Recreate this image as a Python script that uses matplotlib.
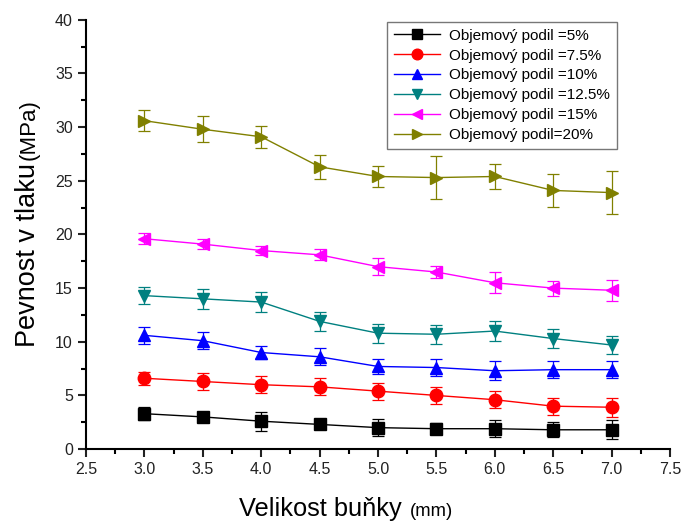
import matplotlib.pyplot as plt
from matplotlib.ticker import MultipleLocator

plt.rcParams['font.family'] = ['Liberation Sans', 'DejaVu Sans']

x = [3.0, 3.5, 4.0, 4.5, 5.0, 5.5, 6.0, 6.5, 7.0]
labels = ['Objemový podil =5%', 'Objemový podil =7.5%', 'Objemový podil =10%',
          'Objemový podil =12.5%', 'Objemový podil =15%', 'Objemový podil=20%']
y5 = [3.3, 3.0, 2.6, 2.3, 2.0, 1.9, 1.9, 1.8, 1.8]
e5 = [0.6, 0.4, 0.9, 0.3, 0.8, 0.5, 0.8, 0.7, 0.9]
y75 = [6.6, 6.3, 6.0, 5.8, 5.4, 5.0, 4.6, 4.0, 3.9]
e75 = [0.6, 0.8, 0.8, 0.8, 0.8, 0.8, 0.8, 0.8, 0.9]
y10 = [10.6, 10.1, 9.0, 8.6, 7.7, 7.6, 7.3, 7.4, 7.4]
e10 = [0.8, 0.8, 0.6, 0.8, 0.7, 0.8, 0.9, 0.8, 0.8]
y125 = [14.3, 14.0, 13.7, 11.9, 10.8, 10.7, 11.0, 10.3, 9.7]
e125 = [0.8, 0.9, 0.9, 0.9, 0.9, 0.9, 0.9, 0.9, 0.8]
y15 = [19.6, 19.1, 18.5, 18.1, 17.0, 16.5, 15.5, 15.0, 14.8]
e15 = [0.5, 0.5, 0.4, 0.5, 0.8, 0.6, 1.0, 0.7, 1.0]
y20 = [30.6, 29.8, 29.1, 26.3, 25.4, 25.3, 25.4, 24.1, 23.9]
e20 = [1.0, 1.2, 1.0, 1.1, 1.0, 2.0, 1.2, 1.5, 2.0]

series = [y5, y75, y10, y125, y15, y20]
errors = [e5, e75, e10, e125, e15, e20]
colors = ['#000000', '#ff0000', '#0000ff', '#008080', '#ff00ff', '#808000']
markers = ['s', 'o', '^', 'v', '<', '>']

fig = plt.figure(figsize=(6.83, 5.21), dpi=100)
ax = fig.add_axes([0.126, 0.138, 0.855, 0.824])

handles = []
for y, e, c, m, lab in zip(series, errors, colors, markers, labels):
    cont = ax.errorbar(x, y, yerr=e, color=c, marker=m, markersize=9, lw=1,
                       elinewidth=0.9, capsize=4, capthick=0.9, label=lab)
    handles.append(cont[0])

ax.set_xlim(2.5, 7.5)
ax.set_ylim(0, 40)
ax.xaxis.set_major_locator(MultipleLocator(0.5))
ax.xaxis.set_minor_locator(MultipleLocator(0.25))
ax.yaxis.set_major_locator(MultipleLocator(5))
ax.yaxis.set_minor_locator(MultipleLocator(2.5))
ax.spines['top'].set_visible(False)
ax.spines['right'].set_visible(False)
ax.spines['left'].set_linewidth(1.5)
ax.spines['bottom'].set_linewidth(1.5)
ax.tick_params(which='major', length=6, width=1.5, labelsize=11.5, colors='#222222')
ax.tick_params(which='minor', length=3.5, width=1.5)
ax.xaxis.set_major_formatter(plt.FormatStrFormatter('%.1f'))

leg = ax.legend(handles, labels, loc='upper right', bbox_to_anchor=(0.909, 0.995),
                borderaxespad=0, fontsize=11, frameon=True, fancybox=False,
                edgecolor='#555555', handlelength=3, handletextpad=0.6,
                markerscale=0.85, labelspacing=0.38, borderpad=0.45)
leg.get_frame().set_linewidth(1)

fig.text(0.0512, 0.334, 'Pevnost v tlaku', rotation=90, fontsize=19.5,
         rotation_mode='anchor', ha='left', va='baseline')
fig.text(0.0512, 0.693, '(MPa)', rotation=90, fontsize=16,
         rotation_mode='anchor', ha='left', va='baseline')
fig.text(0.350, 0.0096, 'Velikost buňky', fontsize=18.3, ha='left', va='baseline')
fig.text(0.600, 0.0096, '(mm)', fontsize=13.3, ha='left', va='baseline')

fig.savefig('out.png', dpi=100)
